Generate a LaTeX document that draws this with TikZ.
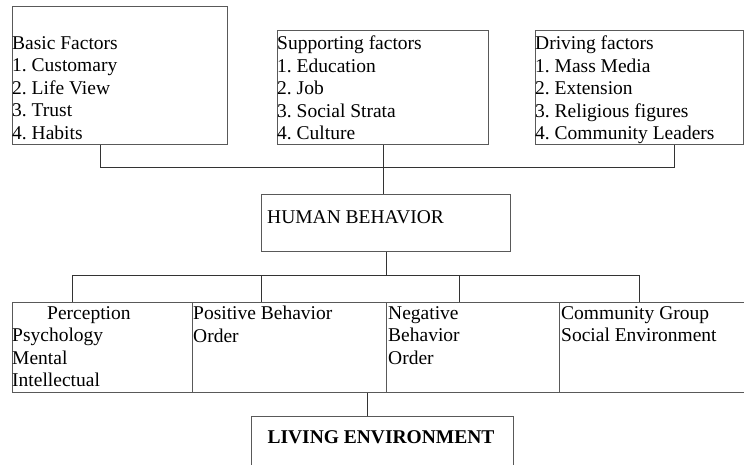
\documentclass[tikz,border=0pt]{standalone}
\usepackage{fontspec}
\setmainfont{Liberation Serif}
\frenchspacing
\tikzset{
  box/.style={draw=black!65, line width=1pt, inner sep=0pt, anchor=north west},
  txt/.style={inner sep=0pt, anchor=north west, align=left, font=\fontsize{19.5}{22.5}\selectfont},
  link/.style={draw=black!80, line width=0.9pt},
}
\begin{document}
\begin{tikzpicture}[x=1pt,y=-1pt]
            \useasboundingbox (0,0) rectangle (744,464);

            \node[box, minimum width=215pt, minimum height=138pt] (basic) at (12,6) {};
            \node[box, minimum width=211pt, minimum height=114pt] (support) at (277,30) {};
            \node[box, minimum width=208pt, minimum height=114pt] (drive) at (535,30) {};
            \node[txt] (basictxt) at (12,36) {Basic Factors\\1. Customary\\2. Life View\\3. Trust\\4. Habits};
            \node[txt] (supporttxt) at (277,36) {Supporting factors\\1. Education\\2. Job\\3. Social Strata\\4. Culture};
            \node[txt] (drivetxt) at (535,36) {Driving factors\\1. Mass Media\\2. Extension\\3. Religious figures\\4. Community Leaders};

            \node[box, minimum width=249pt, minimum height=57pt] (hb) at (261,194) {};
            \node[txt] (hbtxt) at (267,210) {HUMAN BEHAVIOR};

            \node[box, minimum width=180pt, minimum height=90pt] (perc) at (12,302) {};
            \node[box, minimum width=194pt, minimum height=90pt] (pos) at (192,302) {};
            \node[box, minimum width=173pt, minimum height=90pt] (neg) at (386,302) {};
            \node[box, minimum width=191pt, minimum height=90pt] (comm) at (559,302) {};
            \node[txt] (perctxt) at (12,306) {\hspace{35pt}Perception\\Psychology\\Mental\\Intellectual};
            \node[txt] (postxt) at (193,306) {Positive Behavior\\Order};
            \node[txt] (negtxt) at (388,306) {Negative\\Behavior\\Order};
            \node[txt] (commtxt) at (561,306) {Community Group\\Social Environment};

            \node[box, minimum width=262pt, minimum height=60pt] (live) at (251,416) {};
            \node[txt, anchor=center, font=\fontsize{19.5}{22.5}\selectfont\bfseries] (livetxt) at (381,437) {LIVING ENVIRONMENT};

            \coordinate (tbus) at (0,167);
            \draw[link] ([xshift=-19.5pt]basic.south) |- ([xshift=35pt]drive.south |- tbus) -- ([xshift=35pt]drive.south);
            \draw[link] (support.south) -- (support.south |- hb.north);

            \coordinate (d1) at (72,275);
            \coordinate (d2) at (261,275);
            \coordinate (d3) at (459,275);
            \coordinate (d4) at (639,275);
            \draw[link] (hb.south) -- (hb.south |- d1);
            \draw[link] (d1) -- (d4);
            \draw[link] (d1) -- (d1 |- perc.north);
            \draw[link] (d2) -- (d2 |- pos.north);
            \draw[link] (d3) -- (d3 |- neg.north);
            \draw[link] (d4) -- (d4 |- comm.north);

            \draw[link] ([xshift=-15pt]live.north) -- ([xshift=-15pt]live.north |- pos.south);
\end{tikzpicture}
\end{document}
